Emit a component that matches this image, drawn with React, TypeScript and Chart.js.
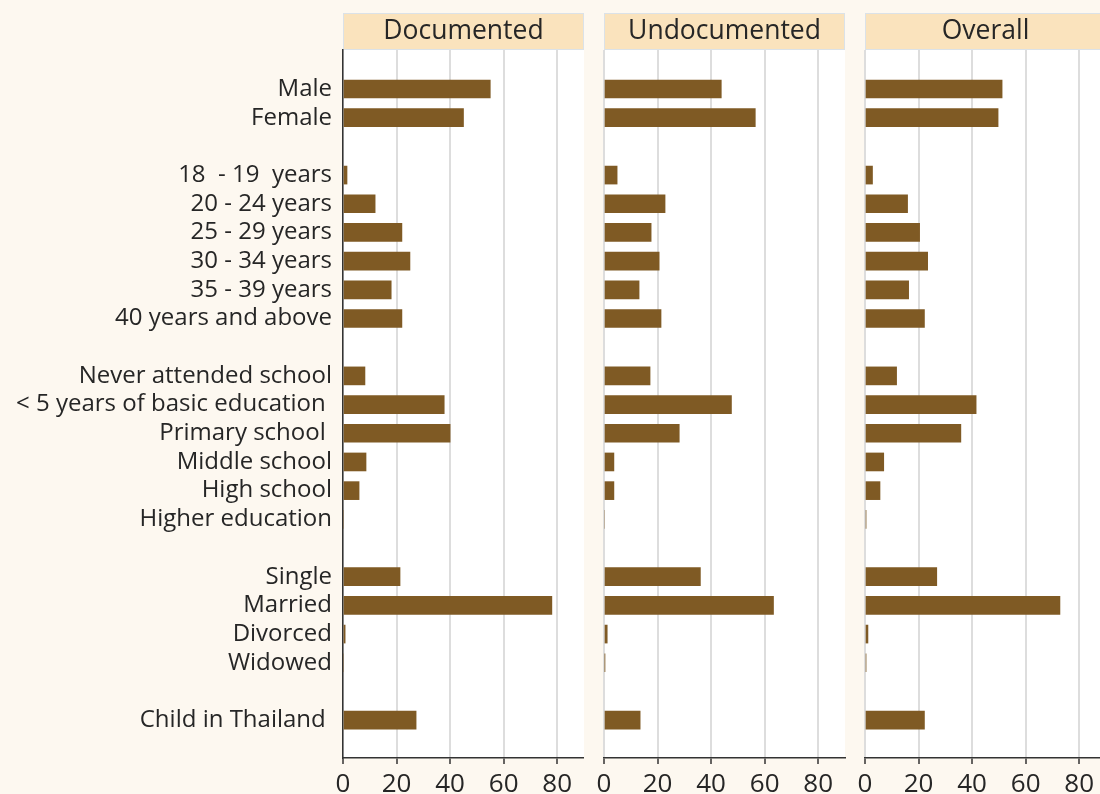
import React, { useEffect, useRef } from 'react';
import { Chart, registerables } from 'chart.js';

Chart.register(...registerables);

// ---- Data ----
const categories = [
  'Male',
  'Female',
  '18  - 19  years',
  '20 - 24 years',
  '25 - 29 years',
  '30 - 34 years',
  '35 - 39 years',
  '40 years and above',
  'Never attended school',
  '< 5 years of basic education ',
  'Primary school ',
  'Middle school',
  'High school',
  'Higher education',
  'Single',
  'Married',
  'Divorced',
  'Widowed',
  'Child in Thailand ',
];
const groupSizes = [2, 6, 6, 4, 1];

const documented = [55, 45, 1.5, 12, 22, 25, 18, 22, 8.2, 37.8, 40, 8.6, 6, 0, 21.3, 78, 0.8, 0, 27.3];
const undocumented = [43.8, 56.5, 4.9, 22.8, 17.6, 20.6, 13.1, 21.3, 17.2, 47.6, 28.1, 3.7, 3.7, 0, 36, 63.3, 1.2, 0.3, 13.5];
const overall = [51.2, 49.7, 2.8, 15.9, 20.4, 23.4, 16.3, 22.2, 11.8, 41.5, 35.8, 7, 5.6, 0.4, 26.8, 72.8, 1.1, 0.4, 22.2];

const panelTitles = ['Documented', 'Undocumented', 'Overall'];
const xTickValues = [0, 20, 40, 60, 80];

// ---- Rows (with spacer rows between groups) ----
const rowLabels: string[] = [];
const rowIndex: number[] = [];
{
  let c = 0;
  groupSizes.forEach((n, g) => {
    if (g > 0) rowLabels.push('');
    for (let k = 0; k < n; k++) {
      rowIndex.push(rowLabels.length);
      rowLabels.push(categories[c++]);
    }
  });
}

const FONT = '"Open Sans", "Noto Sans", sans-serif';
const BAR = '#7f5a24';
const TEXT = '#262626';
const H = 806;

const panelPlugin = {
  id: 'panelDecor',
  beforeDraw(chart: any) {
    const { ctx, chartArea } = chart;
    ctx.save();
    ctx.fillStyle = '#ffffff';
    ctx.fillRect(chartArea.left, chartArea.top, chartArea.right - chartArea.left, chartArea.bottom - chartArea.top);
    const tb = chart.titleBlock;
    if (tb) {
      ctx.fillStyle = '#fae3bd';
      ctx.fillRect(tb.left, tb.top, tb.width, tb.height);
      ctx.strokeStyle = '#dbe2e8';
      ctx.lineWidth = 1;
      ctx.strokeRect(tb.left + 0.5, tb.top + 0.5, tb.width - 1, tb.height - 1);
    }
    ctx.restore();
  },
};

function makeConfig(title: string, values: number[], showLabels: boolean, padLeft: number, padRight: number): any {
  return {
    type: 'bar',
    data: {
      datasets: [
        {
          data: values.map((v, i) => ({ x: v, y: rowIndex[i] })),
          backgroundColor: BAR,
          borderWidth: 0,
          barThickness: 18,
        },
      ],
    },
    options: {
      indexAxis: 'y',
      animation: false,
      responsive: false,
      maintainAspectRatio: false,
      layout: { padding: { top: 13, left: padLeft, right: padRight, bottom: 0 } },
      plugins: {
        legend: { display: false },
        tooltip: { enabled: false },
        title: {
          display: true,
          text: title,
          fullSize: false,
          color: TEXT,
          font: { family: FONT, size: 26.5, weight: 'normal', lineHeight: 1 },
          padding: { top: 5.5, bottom: 5 },
        },
      },
      scales: {
        x: {
          type: 'linear',
          position: 'bottom',
          min: 0,
          max: 90,
          afterBuildTicks: (scale: any) => {
            scale.ticks = xTickValues.map((v) => ({ value: v }));
          },
          ticks: {
            color: TEXT,
            font: { family: FONT, size: 26, lineHeight: 1 },
            padding: 8,
            maxRotation: 0,
          },
          grid: { color: '#dddddd', lineWidth: 2, tickColor: '#333333', tickLength: 6, tickWidth: 1.5 },
          border: { display: true, color: '#333333', width: 1.5 },
        },
        y: {
          type: 'linear',
          reverse: true,
          offset: false,
          min: -1.36,
          max: 23.32,
          display: showLabels,
          afterBuildTicks: (scale: any) => {
            scale.ticks = rowLabels.map((_, i) => ({ value: i }));
          },
          afterFit: (scale: any) => {
            if (showLabels) scale.width = 343;
          },
          ticks: {
            autoSkip: false,
            color: TEXT,
            font: { family: FONT, size: 24, lineHeight: 1.2 },
            padding: 11,
            callback: (v: any) => rowLabels[v] ?? '',
          },
          grid: { display: false, drawTicks: false },
          border: { display: true, color: '#333333', width: 1.5 },
        },
      },
    },
    plugins: [panelPlugin],
  };
}

function Panel(props: { title: string; values: number[]; showLabels: boolean; left: number; width: number; padLeft: number; padRight: number }) {
  const ref = useRef<HTMLCanvasElement | null>(null);
  useEffect(() => {
    if (!ref.current) return;
    const chart = new Chart(ref.current, makeConfig(props.title, props.values, props.showLabels, props.padLeft, props.padRight));
    return () => chart.destroy();
  }, []);
  return (
    <canvas
      ref={ref}
      width={props.width}
      height={H}
      style={{ position: 'absolute', left: props.left, top: 0, width: props.width, height: H }}
    />
  );
}

export default function App() {
  return (
    <div
      style={{
        position: 'fixed',
        left: 0,
        top: 0,
        width: 1100,
        height: 794,
        overflow: 'hidden',
        background: '#fdf8f0',
      }}
    >
      <Panel title={panelTitles[0]} values={documented} showLabels={true} left={0} width={584} padLeft={0} padRight={0} />
      <Panel title={panelTitles[1]} values={undocumented} showLabels={false} left={584} width={266} padLeft={20} padRight={5} />
      <Panel title={panelTitles[2]} values={overall} showLabels={false} left={845} width={261} padLeft={20} padRight={0} />
    </div>
  );
}
